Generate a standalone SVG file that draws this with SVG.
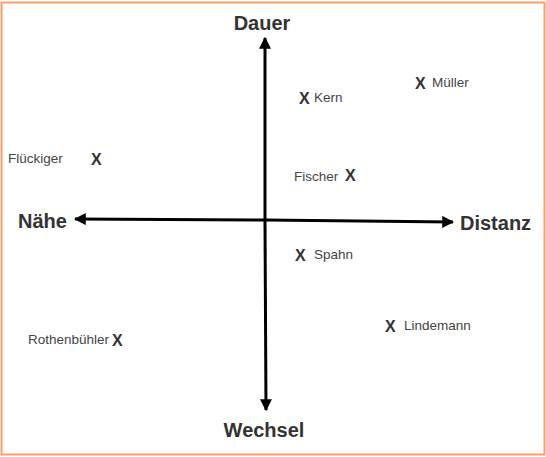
<svg xmlns="http://www.w3.org/2000/svg" width="546" height="457" viewBox="0 0 546 457">
<style>
.ax{font-family:"Liberation Sans",Arial,sans-serif;font-weight:bold;font-size:20px;fill:#333}
.nm{font-family:"Liberation Sans",Arial,sans-serif;font-size:13.5px;fill:#444}
.x{font-family:"Liberation Sans",Arial,sans-serif;font-weight:bold;font-size:16px;fill:#333}
.axis{stroke:#000;stroke-width:3;fill:none}
</style>
<defs>
<marker id="ah" viewBox="0 0 10 10" refX="9" refY="5" markerWidth="4" markerHeight="4" orient="auto" markerUnits="strokeWidth">
<path d="M0,0 L10,5 L0,10 z" fill="#000"/>
</marker>
</defs>
<rect x="1.5" y="2.5" width="543" height="452" fill="#fff" stroke="#f5a06a" stroke-width="2"/>
<g id="connectors">
<line class="axis" x1="265" y1="221" x2="265" y2="38" marker-end="url(#ah)"/>
<line class="axis" x1="265" y1="221" x2="266" y2="410" marker-end="url(#ah)"/>
<line class="axis" x1="265" y1="220" x2="75" y2="219" marker-end="url(#ah)"/>
<line class="axis" x1="265" y1="220" x2="453" y2="222" marker-end="url(#ah)"/>
</g>
<g id="axis-labels">
<text class="ax" x="262" y="30" text-anchor="middle">Dauer</text>
<text class="ax" x="18" y="228">Nähe</text>
<text class="ax" x="460" y="230">Distanz</text>
<text class="ax" x="264" y="437" text-anchor="middle">Wechsel</text>
</g>
<g id="kern"><text class="x" x="299" y="104">X</text><text class="nm" x="314" y="102">Kern</text></g>
<g id="mueller"><text class="x" x="415" y="89">X</text><text class="nm" x="432" y="87">Müller</text></g>
<g id="flueckiger"><text class="nm" x="8" y="163">Flückiger</text><text class="x" x="91" y="165">X</text></g>
<g id="fischer"><text class="nm" x="294" y="181">Fischer</text><text class="x" x="345" y="181">X</text></g>
<g id="spahn"><text class="x" x="295" y="261">X</text><text class="nm" x="314" y="259">Spahn</text></g>
<g id="lindemann"><text class="x" x="385" y="332">X</text><text class="nm" x="404" y="330">Lindemann</text></g>
<g id="rothenbuehler"><text class="nm" x="28" y="344">Rothenbühler</text><text class="x" x="112" y="346">X</text></g>
</svg>
